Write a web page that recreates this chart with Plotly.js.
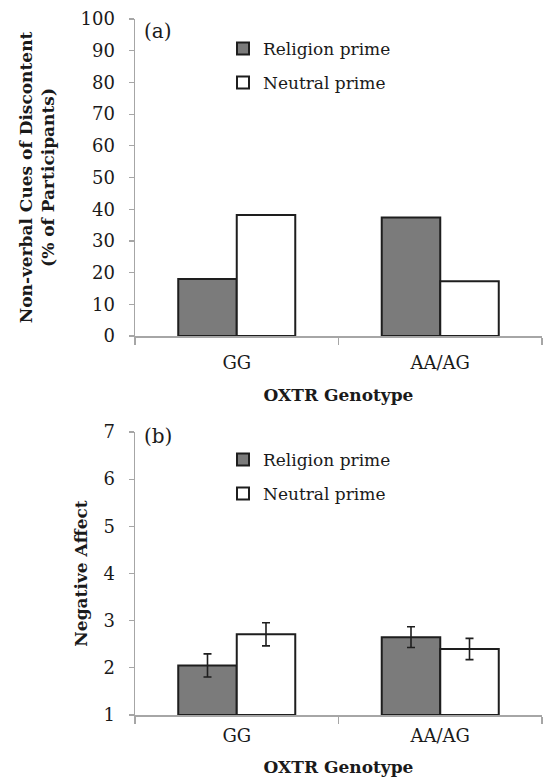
<!DOCTYPE html>
<html><head><meta charset="utf-8">
<script src="https://cdn.plot.ly/plotly-3.0.1.min.js"></script>
<style>body{margin:0;background:#fff}#c{width:544px;height:779px}</style>
</head><body><div id="c"></div>
<script>
const genotypes = ["GG", "AA/AG"];
const seriesNames = ["Religion prime", "Neutral prime"];
// Panel (a): non-verbal cues of discontent (% of participants)
const cuesReligion = [18.0, 37.4];
const cuesNeutral = [38.2, 17.3];
// Panel (b): negative affect (means and standard errors), scale starts at 1
const affectBase = 1;
const affectReligion = [2.05, 2.65];
const affectNeutral = [2.71, 2.40];
const affectReligionErr = [0.245, 0.22];
const affectNeutralErr = [0.245, 0.225];
const yTicksA = [0, 10, 20, 30, 40, 50, 60, 70, 80, 90, 100];
const yTicksB = [1, 2, 3, 4, 5, 6, 7];

const SERIF = "DejaVu Serif, Liberation Serif, serif";
const TXT = "#1a1a1a";
const fillColors = ["#7b7b7b", "#ffffff"];
const lineC = "#1e1e1e";

function bar(name, y, xa, ya, color, legend, err, base) {
  const t = {
    type: "bar", name: name, x: genotypes, xaxis: xa, yaxis: ya,
    legend: legend,
    marker: {color: color, line: {color: lineC, width: 2}},
    hoverinfo: "skip"
  };
  if (base !== undefined) { t.base = base; t.y = y.map(v => v - base); } else { t.y = y; }
  if (err) t.error_y = {type: "data", array: err, visible: true, color: "#1e1e1e", thickness: 1.6, width: 4};
  return t;
}

const data = [
  bar(seriesNames[0], cuesReligion, "x", "y", fillColors[0], "legend"),
  bar(seriesNames[1], cuesNeutral, "x", "y", fillColors[1], "legend2"),
  bar(seriesNames[0], affectReligion, "x2", "y2", fillColors[0], "legend3", affectReligionErr, affectBase),
  bar(seriesNames[1], affectNeutral, "x2", "y2", fillColors[1], "legend4", affectNeutralErr, affectBase)
];

const W = 544, H = 779;
const xd = [135 / W, 542 / W];
const axCommon = {
  showgrid: false, zeroline: false, showline: true, linecolor: "#a6a6a6", linewidth: 1.5,
  ticks: "outside", tickcolor: "#a6a6a6", ticklen: 5, tickwidth: 1.2,
  tickfont: {family: SERIF, size: 18, color: TXT}, fixedrange: true
};
function xaxis(anchor, standoff, labStandoff) {
  return Object.assign({}, axCommon, {
    domain: xd, anchor: anchor, type: "category", range: [-0.5, 1.5],
    tickson: "boundaries", ticklen: 7, ticklabelstandoff: labStandoff,
    tickfont: {family: SERIF, size: 18, color: TXT},
    title: {text: "<b>OXTR Genotype</b>", font: {family: SERIF, size: 17, color: TXT}, standoff: standoff}
  });
}
function leg(yc) {
  return {x: 223 / W, y: 1 - yc / H, xanchor: "left", yanchor: "middle", bgcolor: "rgba(0,0,0,0)",
    font: {family: SERIF, size: 17, color: TXT}, itemwidth: 30, tracegroupgap: 0, borderwidth: 0};
}
const layout = {
  width: W, height: H, margin: {l: 0, r: 0, t: 0, b: 0},
  paper_bgcolor: "#fff", plot_bgcolor: "#fff",
  barmode: "group", bargap: 0.425, bargroupgap: 0,
  showlegend: true,
  xaxis: xaxis("y", 17, 10),
  yaxis: Object.assign({}, axCommon, {
    domain: [1 - 336 / H, 1 - 19 / H], anchor: "x", range: [0, 100],
    tickvals: yTicksA, ticklabelstandoff: 10,
    title: {text: "<b>Non-verbal Cues of Discontent<br>(% of Participants)</b>", font: {family: SERIF, size: 17, color: TXT}, standoff: 21}
  }),
  xaxis2: xaxis("y2", 16, 4),
  yaxis2: Object.assign({}, axCommon, {
    domain: [1 - 715 / H, 1 - 432 / H], anchor: "x2", range: [1, 7],
    tickvals: yTicksB, ticklabelstandoff: 10,
    title: {text: "<b>Negative Affect</b>", font: {family: SERIF, size: 17, color: TXT}, standoff: 11}
  }),
  legend: leg(49),
  legend2: leg(83),
  legend3: leg(460),
  legend4: leg(494),
  annotations: [
    {text: "(a)", xref: "paper", yref: "paper", x: 142 / W, y: 1 - 31 / H, xanchor: "left", yanchor: "middle",
     showarrow: false, font: {family: SERIF, size: 20, color: TXT}},
    {text: "(b)", xref: "paper", yref: "paper", x: 142 / W, y: 1 - 436 / H, xanchor: "left", yanchor: "middle",
     showarrow: false, font: {family: SERIF, size: 20, color: TXT}}
  ]
};
Plotly.newPlot("c", data, layout, {displayModeBar: false, staticPlot: true});
</script>
</body></html>
